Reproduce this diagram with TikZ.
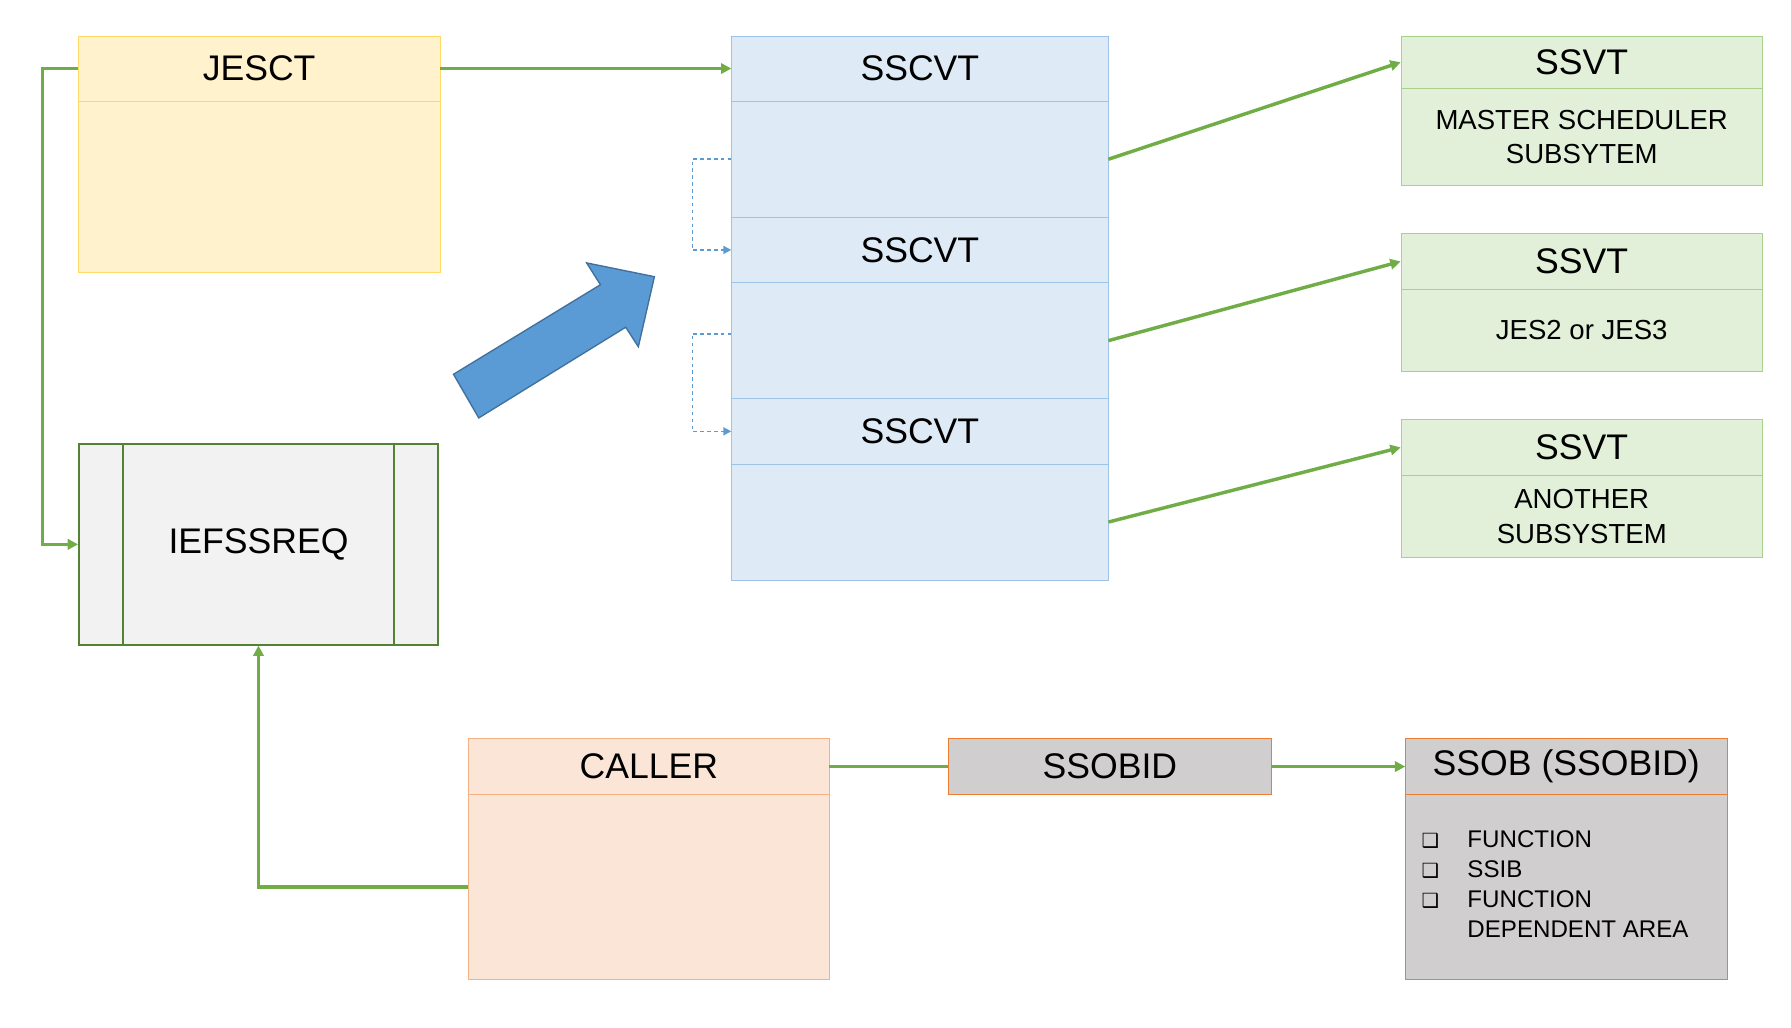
\documentclass[tikz,border=0pt]{standalone}
\usepackage{fontspec}
\setmainfont{Liberation Sans}
\usetikzlibrary{arrows.meta}
\definecolor{gline}{HTML}{70AD47}
\definecolor{bluel}{HTML}{5B9BD5}
\definecolor{yfill}{HTML}{FFF2CC}\definecolor{ydraw}{HTML}{FFD966}
\definecolor{bfill}{HTML}{DEEBF7}\definecolor{bdraw}{HTML}{9DC3E6}
\definecolor{gfill}{HTML}{E2F0D9}\definecolor{gdraw}{HTML}{A9D18E}
\definecolor{ofill}{HTML}{FBE5D6}\definecolor{odraw}{HTML}{F4B183}
\definecolor{kfill}{HTML}{D0CECE}\definecolor{kdraw}{HTML}{ED7D31}
\definecolor{ifill}{HTML}{F2F2F2}\definecolor{idraw}{HTML}{548235}
\definecolor{adraw}{HTML}{41719C}
\begin{document}
\begin{tikzpicture}[x=1pt,y=-1pt,
  box/.style={draw, rectangle, anchor=north west, inner sep=0pt, align=center, font=\fontsize{31}{34}\selectfont},
  yel/.style={box, fill=yfill, draw=ydraw},
  blu/.style={box, fill=bfill, draw=bdraw},
  grn/.style={box, fill=gfill, draw=gdraw},
  org/.style={box, fill=ofill, draw=odraw},
  gry/.style={box, fill=kfill, draw=kdraw},
  small/.style={font=\fontsize{24}{30}\selectfont},
  conn/.style={draw=gline, line width=3pt, -{Triangle[length=9pt,width=9pt]}},
  plain/.style={draw=gline, line width=3pt},
  dashconn/.style={draw=bluel, line width=1.3pt, dashed, -{Triangle[length=7pt,width=7pt]}}]
\useasboundingbox (0,0) rectangle (1560,895);
% JESCT
\node[yel, minimum width=315pt, minimum height=57pt] (j1) at (68,31) {JESCT};
\node[yel, minimum width=315pt, minimum height=149pt] (j2) at (68,88) {};
% SSCVT
\node[blu, minimum width=328pt, minimum height=57pt] (s1) at (637,31) {SSCVT};
\node[blu, minimum width=328pt, minimum height=101pt] (s1b) at (637,88) {};
\node[blu, minimum width=328pt, minimum height=57pt] (s2) at (637,189) {SSCVT};
\node[blu, minimum width=328pt, minimum height=101pt] (s2b) at (637,246) {};
\node[blu, minimum width=328pt, minimum height=57pt] (s3) at (637,347) {SSCVT};
\node[blu, minimum width=328pt, minimum height=101pt] (s3b) at (637,404) {};
% SSVT
\node[grn, minimum width=315pt, minimum height=46pt] (v1) at (1220,31) {SSVT};
\node[grn, minimum width=315pt, minimum height=84pt, small] (v1b) at (1220,77) {MASTER SCHEDULER\\SUBSYTEM};
\node[grn, minimum width=315pt, minimum height=49pt] (v2) at (1220,203) {SSVT};
\node[grn, minimum width=315pt, minimum height=71pt, small] (v2b) at (1220,252) {JES2 or JES3};
\node[grn, minimum width=315pt, minimum height=49pt] (v3) at (1220,365) {SSVT};
\node[grn, minimum width=315pt, minimum height=71pt, small] (v3b) at (1220,414) {ANOTHER\\SUBSYSTEM};
% IEFSSREQ
\node[box, fill=ifill, draw=idraw, line width=1.3pt, minimum width=313pt, minimum height=175pt] (ief) at (68,386) {IEFSSREQ};
\draw[draw=idraw, line width=1.3pt] ([xshift=39pt]ief.north west) -- ([xshift=39pt]ief.south west)
  ([xshift=-39pt]ief.north east) -- ([xshift=-39pt]ief.south east);
% CALLER
\node[org, minimum width=314pt, minimum height=49pt] (c1) at (408,643) {CALLER};
\node[org, minimum width=314pt, minimum height=161pt] (c2) at (408,692) {};
% SSOBID
\node[gry, minimum width=281pt, minimum height=49pt] (sid) at (826,643) {SSOBID};
\node[gry, minimum width=280pt, minimum height=49pt] (sb1) at (1224,643) {SSOB (SSOBID)};
\node[gry, minimum width=280pt, minimum height=161pt] (sb2) at (1224,692) {};
\node[anchor=north west, align=left, inner sep=0pt, font=\fontsize{21}{26}\selectfont] (lst) at (1238,720)
 {\begin{tabular}{@{}p{40pt}@{}l@{}}
  \fontspec{DejaVu Sans}\fontsize{17}{26}\selectfont ❑ & FUNCTION\\
  \fontspec{DejaVu Sans}\fontsize{17}{26}\selectfont ❑ & SSIB\\
  \fontspec{DejaVu Sans}\fontsize{17}{26}\selectfont ❑ & FUNCTION\\
   & DEPENDENT AREA
 \end{tabular}};
% connectors
\draw[conn] (j1.east) -- (s1.west);
\draw[conn] (j1.west) -- ++(-31,0) |- (ief.west);
\draw[conn] (s1b.east) -- (v1.west);
\draw[conn] (s2b.east) -- (v2.west);
\draw[conn] (s3b.east) -- (v3.west);
\draw[conn] (c2.west) -| (ief.south);
\draw[plain] (c1.east) -- (sid.west);
\draw[conn] (sid.east) -- (sb1.west);
\draw[dashconn] (s1b.west) -- ++(-34,0) |- (s2.west);
\draw[dashconn] ([yshift=6pt]s2b.west) -- ++(-34,0) |- (s3.west);
% big arrow
\draw[fill=bluel, draw=adraw, line width=1.2pt]
 (395,326) -- (523,248) -- (511,229) -- (570,241) -- (556,302) -- (545,285) -- (417,364) -- cycle;
\end{tikzpicture}
\end{document}
